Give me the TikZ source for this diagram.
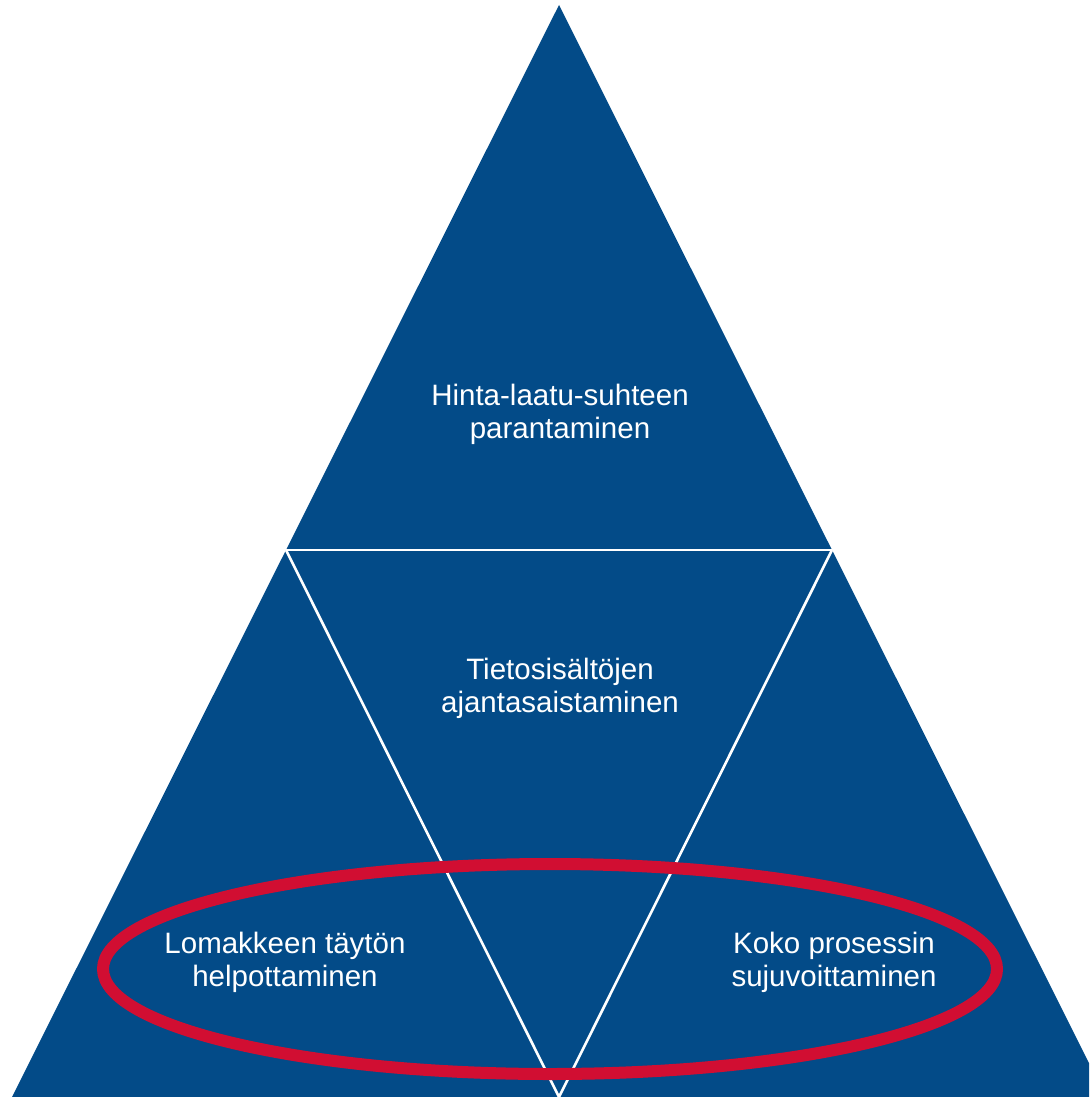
\documentclass[tikz,border=0pt]{standalone}
\usepackage{fontspec}
\setmainfont{Liberation Sans}
\definecolor{pblue}{HTML}{034B88}
\definecolor{pred}{HTML}{D10E32}
\begin{document}
\begin{tikzpicture}[x=1pt,y=-1pt,
  lbl/.style={text=white,align=center,font=\fontsize{29.5}{33}\selectfont},
  sep/.style={draw=white,line width=2.6pt}]
\useasboundingbox (0,0) rectangle (1089,1097);
\clip (0,0) rectangle (1089,1097);
\coordinate (apex) at (559,5);
\coordinate (bl) at (12,1097);
\coordinate (br) at (1106,1097);
\coordinate (ml) at (286,550);
\coordinate (mr) at (832,550);
\coordinate (bm) at (559,1097);
\fill[pblue] (apex) -- (br) -- (bl) -- cycle;
\draw[sep] (ml) -- (mr);
\draw[sep] (ml) -- (bm) -- (mr);
\draw[pred,line width=12pt] (550,969) ellipse [x radius=447, y radius=105];
\node[lbl] (top) at (560,414) {Hinta-laatu-suhteen\\parantaminen};
\node[lbl] (mid) at (560,688) {Tietosisältöjen\\ajantasaistaminen};
\node[lbl] (left) at (285,962) {Lomakkeen täytön\\helpottaminen};
\node[lbl] (right) at (834,962) {Koko prosessin\\sujuvoittaminen};
\end{tikzpicture}
\end{document}
